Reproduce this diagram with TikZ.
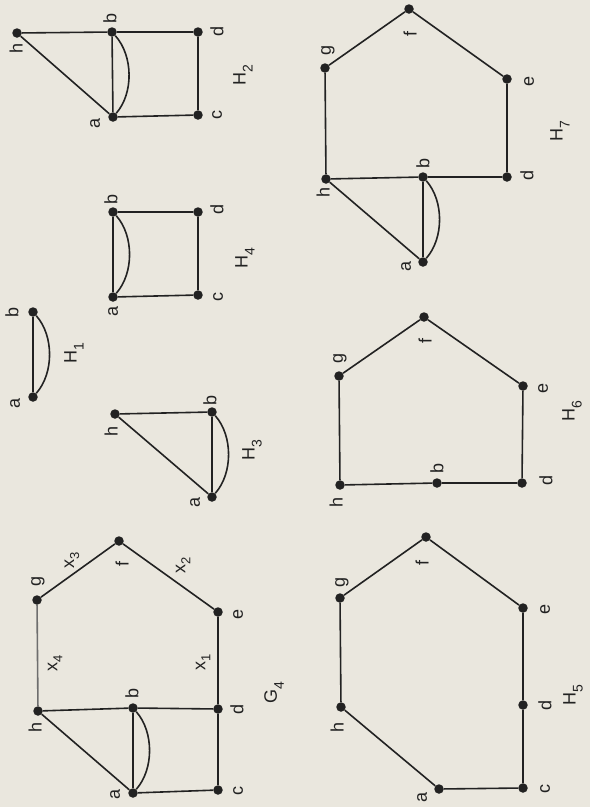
\documentclass[tikz,border=0pt]{standalone}
\usepackage{fontspec}
\setmainfont{Liberation Sans}
\usetikzlibrary{calc}
\definecolor{paper}{RGB}{234,231,222}
\definecolor{ink}{RGB}{34,34,34}
\definecolor{grayedge}{RGB}{110,110,110}
\newcommand{\sbs}[1]{\raisebox{-5pt}{\fontsize{13}{13}\selectfont #1}}
\newcommand{\sbn}[1]{\raisebox{-7pt}{\fontsize{14}{14}\selectfont #1}}
\newcommand{\arcab}[2]{\draw[edge] (#1) .. controls ($(#1)!0.28!(#2)+(21,0)$) and ($(#1)!0.72!(#2)+(21,0)$) .. (#2);}
\begin{document}
\begin{tikzpicture}[x=1pt,y=-1pt,
  vtx/.style={circle,fill=ink,inner sep=0pt,minimum size=9.5pt},
  edge/.style={draw=ink,line width=1.6pt},
  lbl/.style={rotate=90,text=ink,font=\fontsize{18}{18}\selectfont,inner sep=0pt},
  gname/.style={rotate=90,text=ink,font=\fontsize{18}{18}\selectfont,inner sep=0pt}]
\fill[paper] (0,0) rectangle (590,807);
\useasboundingbox (0,0) rectangle (590,807);

% ---------- H2 ----------
\node[vtx] (h2h) at (17,33) {};
\node[vtx] (h2b) at (112,32) {};
\node[vtx] (h2d) at (198,32) {};
\node[vtx] (h2a) at (113,117) {};
\node[vtx] (h2c) at (198,115) {};
\draw[edge] (h2h) -- (h2b) -- (h2d) -- (h2c) -- (h2a) -- (h2h);
\draw[edge] (h2a) -- (h2b);
\arcab{h2a}{h2b}
\node[lbl] (h2hl) at (16,48) {h};
\node[lbl] (h2bl) at (110,18) {b};
\node[lbl] (h2dl) at (217,31) {d};
\node[lbl] (h2al) at (95,123) {a};
\node[lbl] (h2cl) at (217,115) {c};
\node[gname] (h2n) at (243,75) {H\sbn{2}};

% ---------- H4 ----------
\node[vtx] (h4b) at (113,212) {};
\node[vtx] (h4d) at (198,212) {};
\node[vtx] (h4a) at (113,297) {};
\node[vtx] (h4c) at (198,295) {};
\draw[edge] (h4b) -- (h4d) -- (h4c) -- (h4a);
\draw[edge] (h4a) -- (h4b);
\arcab{h4a}{h4b}
\node[lbl] (h4bl) at (111,199) {b};
\node[lbl] (h4dl) at (217,209) {d};
\node[lbl] (h4al) at (113,311) {a};
\node[lbl] (h4cl) at (218,297) {c};
\node[gname] (h4n) at (245,258) {H\sbn{4}};

% ---------- H1 ----------
\node[vtx] (h1b) at (33,312) {};
\node[vtx] (h1a) at (33,397) {};
\draw[edge] (h1a) -- (h1b);
\arcab{h1a}{h1b}
\node[lbl] (h1bl) at (12,312) {b};
\node[lbl] (h1al) at (15,403) {a};
\node[gname] (h1n) at (74,353) {H\sbn{1}};

% ---------- H3 ----------
\node[vtx] (h3h) at (115,414) {};
\node[vtx] (h3b) at (212,412) {};
\node[vtx] (h3a) at (212,497) {};
\draw[edge] (h3h) -- (h3b);
\draw[edge] (h3h) -- (h3a);
\draw[edge] (h3a) -- (h3b);
\arcab{h3a}{h3b}
\node[lbl] (h3hl) at (111,431) {h};
\node[lbl] (h3bl) at (210,400) {b};
\node[lbl] (h3al) at (195,502) {a};
\node[gname] (h3n) at (252,450) {H\sbn{3}};

% ---------- G4 ----------
\node[vtx] (g4f) at (119,541) {};
\node[vtx] (g4g) at (37,600) {};
\node[vtx] (g4e) at (218,612) {};
\node[vtx] (g4h) at (38,711) {};
\node[vtx] (g4b) at (133,708) {};
\node[vtx] (g4d) at (218,709) {};
\node[vtx] (g4a) at (133,793) {};
\node[vtx] (g4c) at (218,790) {};
\draw[edge,draw=grayedge] (g4h) -- (g4g);
\draw[edge] (g4g) -- (g4f) -- (g4e) -- (g4d) -- (g4b) -- (g4h);
\draw[edge] (g4h) -- (g4a) -- (g4c) -- (g4d);
\draw[edge] (g4a) -- (g4b);
\arcab{g4a}{g4b}
\node[lbl] (g4gl) at (38,581) {g};
\node[lbl] (g4fl) at (122,564) {f};
\node[lbl] (g4el) at (238,614) {e};
\node[lbl] (g4hl) at (35,727) {h};
\node[lbl] (g4bl) at (132,693) {b};
\node[lbl] (g4dl) at (237,709) {d};
\node[lbl] (g4al) at (115,794) {a};
\node[lbl] (g4cl) at (238,791) {c};
\node[lbl] (g4x4) at (55,663) {x\sbs{4}};
\node[lbl] (g4x3) at (72,560) {x\sbs{3}};
\node[lbl] (g4x2) at (183,565) {x\sbs{2}};
\node[lbl] (g4x1) at (203,662) {x\sbs{1}};
\node[gname] (g4n) at (274,693) {G\sbn{4}};

% ---------- H7 ----------
\node[vtx] (h7f) at (409,9) {};
\node[vtx] (h7g) at (325,68) {};
\node[vtx] (h7e) at (507,79) {};
\node[vtx] (h7h) at (326,179) {};
\node[vtx] (h7b) at (423,177) {};
\node[vtx] (h7d) at (507,177) {};
\node[vtx] (h7a) at (423,262) {};
\draw[edge] (h7h) -- (h7g) -- (h7f) -- (h7e) -- (h7d) -- (h7b) -- (h7h);
\draw[edge] (h7h) -- (h7a);
\draw[edge] (h7a) -- (h7b);
\arcab{h7a}{h7b}
\node[lbl] (h7gl) at (328,50) {g};
\node[lbl] (h7fl) at (410,34) {f};
\node[lbl] (h7el) at (529,81) {e};
\node[lbl] (h7hl) at (323,192) {h};
\node[lbl] (h7bl) at (423,163) {b};
\node[lbl] (h7dl) at (527,175) {d};
\node[lbl] (h7al) at (406,266) {a};
\node[gname] (h7n) at (560,131) {H\sbn{7}};

% ---------- H6 ----------
\node[vtx] (h6f) at (424,317) {};
\node[vtx] (h6g) at (339,376) {};
\node[vtx] (h6e) at (523,386) {};
\node[vtx] (h6h) at (340,485) {};
\node[vtx] (h6b) at (437,483) {};
\node[vtx] (h6d) at (522,483) {};
\draw[edge] (h6h) -- (h6g) -- (h6f) -- (h6e) -- (h6d) -- (h6b) -- (h6h);
\node[lbl] (h6gl) at (340,358) {g};
\node[lbl] (h6fl) at (425,341) {f};
\node[lbl] (h6el) at (543,388) {e};
\node[lbl] (h6hl) at (336,502) {h};
\node[lbl] (h6bl) at (437,468) {b};
\node[lbl] (h6dl) at (546,480) {d};
\node[gname] (h6n) at (572,411) {H\sbn{6}};

% ---------- H5 ----------
\node[vtx] (h5f) at (426,537) {};
\node[vtx] (h5g) at (340,598) {};
\node[vtx] (h5e) at (523,608) {};
\node[vtx] (h5h) at (341,707) {};
\node[vtx] (h5d) at (523,705) {};
\node[vtx] (h5a) at (439,789) {};
\node[vtx] (h5c) at (523,788) {};
\draw[edge] (h5h) -- (h5g) -- (h5f) -- (h5e) -- (h5d) -- (h5c) -- (h5a) -- (h5h);
\node[lbl] (h5gl) at (342,582) {g};
\node[lbl] (h5fl) at (422,563) {f};
\node[lbl] (h5el) at (545,609) {e};
\node[lbl] (h5hl) at (337,727) {h};
\node[lbl] (h5dl) at (545,705) {d};
\node[lbl] (h5al) at (422,797) {a};
\node[lbl] (h5cl) at (545,789) {c};
\node[gname] (h5n) at (573,695) {H\sbn{5}};
\end{tikzpicture}
\end{document}
